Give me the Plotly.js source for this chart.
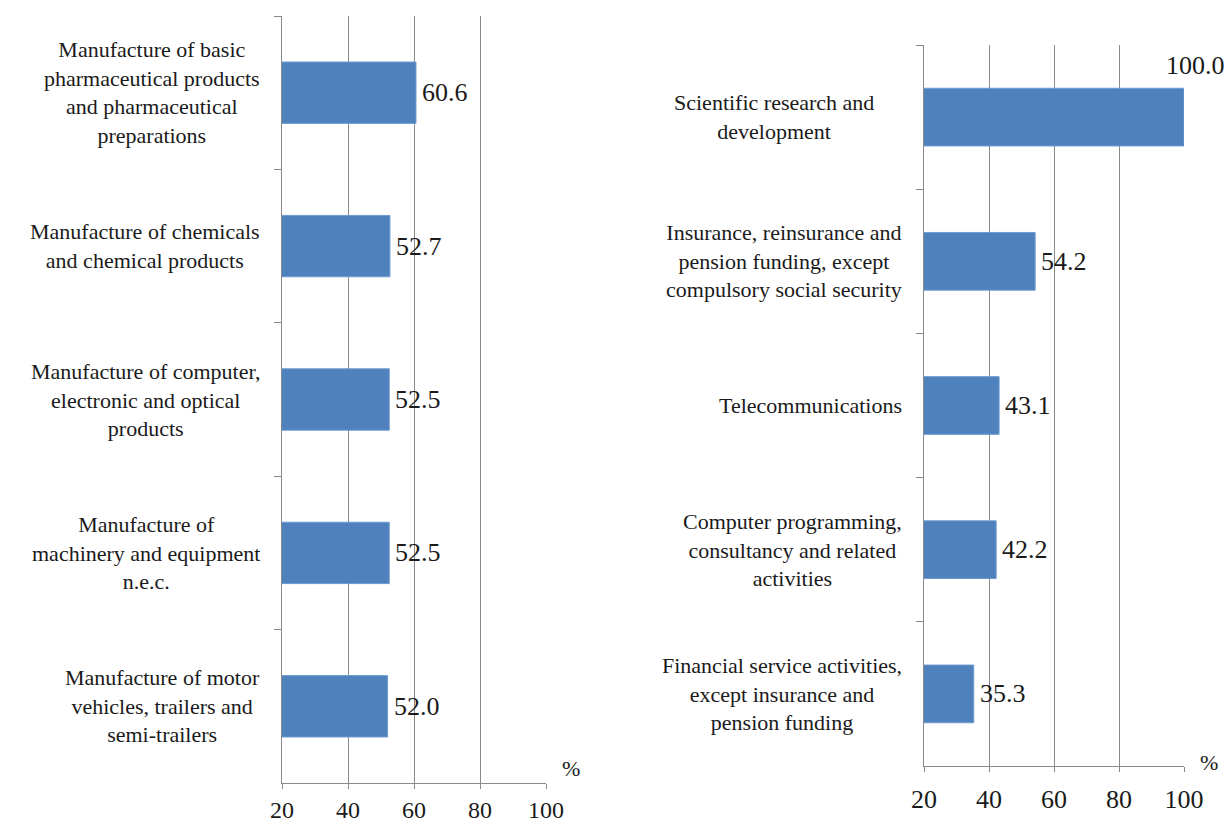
<!DOCTYPE html>
<html>
<head>
<meta charset="utf-8">
<script src="https://cdn.plot.ly/plotly-3.0.1.min.js"></script>
<style>
html,body{margin:0;padding:0;background:#fff;}
#chart{width:1229px;height:823px;}
</style>
</head>
<body>
<div id="chart"></div>
<script>
// ---- data ----
const leftCategories = [
  "Manufacture of basic<br>pharmaceutical products<br>and pharmaceutical<br>preparations",
  "Manufacture of chemicals<br>and chemical products",
  "Manufacture of computer,<br>electronic and optical<br>products",
  "Manufacture of<br>machinery and equipment<br>n.e.c.",
  "Manufacture of motor<br>vehicles, trailers and<br>semi-trailers"
];
const leftValues = [60.6, 52.7, 52.5, 52.5, 52.0];

const rightCategories = [
  "Scientific research and<br>development",
  "Insurance, reinsurance and<br>pension funding, except<br>compulsory social security",
  "Telecommunications",
  "Computer programming,<br>consultancy and related<br>activities",
  "Financial service activities,<br>except insurance and<br>pension funding"
];
const rightValues = [100.0, 54.2, 43.1, 42.2, 35.3];

const xTickVals = [20, 40, 60, 80, 100];
const unitLabel = "%";

// ---- styling ----
const FONT = "Liberation Serif";
const BAR = "#4F81BD";
const GRID = "#8a8a8a";

const catIdsL = leftCategories.map((_, i) => "L" + i);
const catIdsR = rightCategories.map((_, i) => "R" + i);

const traces = [
  {
    type: "bar", orientation: "h",
    x: leftValues, y: catIdsL,
    xaxis: "x", yaxis: "y",
    marker: {color: BAR, line: {color: "#6d9ad0", width: 1}},
    width: 0.4, hoverinfo: "x", showlegend: false
  },
  {
    type: "bar", orientation: "h",
    x: rightValues, y: catIdsR,
    xaxis: "x2", yaxis: "y2",
    marker: {color: BAR, line: {color: "#6d9ad0", width: 1}},
    width: 0.4, hoverinfo: "x", showlegend: false
  }
];

function xAxis(domain, anchor, standoff, fsize) {
  return {
    domain: domain, anchor: anchor, range: [20, 100],
    tickmode: "array", tickvals: xTickVals, ticktext: xTickVals.map(String),
    showgrid: true, gridcolor: GRID, gridwidth: 1,
    showline: true, linecolor: GRID, linewidth: 1,
    ticks: "outside", ticklen: 5, tickcolor: GRID,
    tickfont: {family: FONT, size: fsize, color: "#1a1a1a"},
    ticklabelstandoff: standoff,
    zeroline: false, fixedrange: true
  };
}
function yAxis(domain, anchor, ids) {
  return {
    domain: domain, anchor: anchor,
    type: "category", categoryorder: "array", categoryarray: ids,
    autorange: "reversed",
    showticklabels: false, showgrid: false,
    showline: true, linecolor: GRID, linewidth: 1,
    ticks: "outside", ticklen: 7, tickcolor: GRID, tickson: "boundaries",
    zeroline: false, fixedrange: true
  };
}

const annotations = [];
function addPanel(cats, ids, vals, xr, yr, special) {
  cats.forEach((c, i) => {
    annotations.push({
      xref: xr + " domain", yref: yr, x: 0, y: ids[i],
      xanchor: "right", yanchor: "middle", align: "center",
      xshift: -20 - (special[i] || 0),
      text: c, showarrow: false,
      font: {family: FONT, size: 22, color: "#1a1a1a"}
    });
  });
  vals.forEach((v, i) => {
    const atMax = v >= 100;
    annotations.push({
      xref: xr, yref: yr, x: v, y: ids[i],
      xanchor: atMax ? "center" : "left", yanchor: "middle",
      xshift: atMax ? 11 : 4, yshift: atMax ? 52 : 0,
      text: v.toFixed(1), showarrow: false,
      font: {family: FONT, size: 26, color: "#1a1a1a"}
    });
  });
}
addPanel(leftCategories, catIdsL, leftValues, "x", "y", {});
addPanel(rightCategories, catIdsR, rightValues, "x2", "y2", {0: 28});

annotations.push({
  xref: "paper", yref: "paper", x: 571 / 1229, y: 1 - 768 / 823,
  xanchor: "center", yanchor: "middle", text: unitLabel, showarrow: false,
  font: {family: FONT, size: 22, color: "#1a1a1a"}
});
annotations.push({
  xref: "paper", yref: "paper", x: 1209 / 1229, y: 1 - 762 / 823,
  xanchor: "center", yanchor: "middle", text: unitLabel, showarrow: false,
  font: {family: FONT, size: 22, color: "#1a1a1a"}
});

const layout = {
  width: 1229, height: 823,
  margin: {l: 0, r: 0, t: 0, b: 0},
  paper_bgcolor: "#ffffff", plot_bgcolor: "#ffffff",
  showlegend: false,
  xaxis: xAxis([282 / 1229, 546 / 1229], "y", 0, 24),
  yaxis: yAxis([1 - 783 / 823, 1 - 16 / 823], "x", catIdsL),
  xaxis2: xAxis([924 / 1229, 1184 / 1229], "y2", 5, 26),
  yaxis2: yAxis([1 - 766 / 823, 1 - 45 / 823], "x2", catIdsR),
  annotations: annotations,
  font: {family: FONT}
};

Plotly.newPlot("chart", traces, layout, {displayModeBar: false, staticPlot: true});
</script>
</body>
</html>
